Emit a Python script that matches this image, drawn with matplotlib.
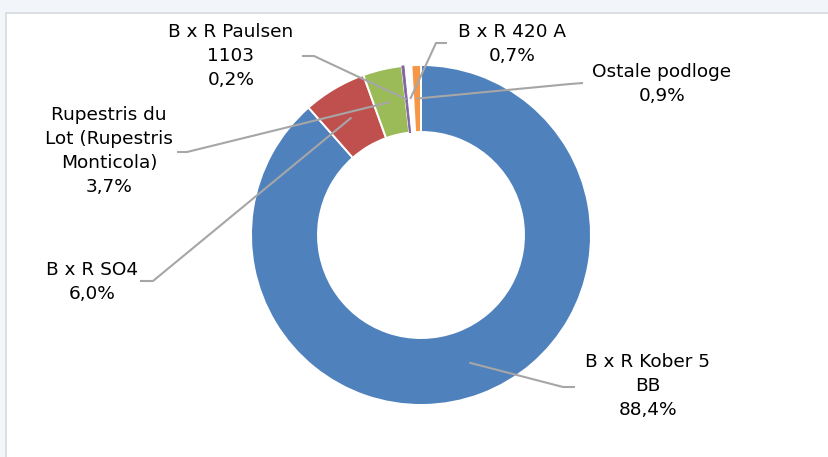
import matplotlib
matplotlib.use("Agg")
import matplotlib.pyplot as plt
import numpy as np
from matplotlib.patches import Rectangle

labels = ["B x R Kober 5\nBB", "B x R SO4", "Rupestris du\nLot (Rupestris\nMonticola)",
          "B x R Paulsen\n1103", "B x R 420 A", "Ostale podloge"]
values = [88.4, 6.0, 3.7, 0.2, 0.7, 0.9]
pct_text = ["88,4%", "6,0%", "3,7%", "0,2%", "0,7%", "0,9%"]
colors = ["#4F81BD", "#C0504D", "#9BBB59", "#8064A2", "#FFFFFF", "#F79646"]

W, H = 829, 457
fig = plt.figure(figsize=(W / 100, H / 100), dpi=100)
fig.patch.set_facecolor("#F2F6FA")
ax = fig.add_axes([0, 0, 1, 1])
ax.set_facecolor("#F2F6FA")

# white panel
ax.add_patch(Rectangle((6, -5), W, H - 13 + 5, facecolor="white",
                       edgecolor="#D6DADE", linewidth=1.2, zorder=0))

cx, cy = 421, H - 235
R = 170
width = 67
wedges, _ = ax.pie(values, colors=colors, startangle=90, counterclock=False,
                   center=(cx, cy), radius=R,
                   wedgeprops=dict(width=width, edgecolor="white", linewidth=1.4))
for w in wedges:
    w.set_zorder(2)
# keep the very thin purple slice visible
wedges[3].set_edgecolor(colors[3])
wedges[3].set_linewidth(0.6)
wedges[3].set_zorder(2.5)

# label layout (pixel coordinates, y from top): text center x, top line y, leader path start points
text_pos = [(648, 362), (92, 270), (109, 115), (231, 32), (512, 32), (662, 72)]
leader_pts = [[(575, 387), (563, 387)],
              [(140, 281), (153, 281)],
              [(177, 152), (187, 152)],
              [(302, 56), (314, 56)],
              [(447, 43), (436, 43)],
              [(583, 83), (570, 84)]]

total = sum(values)
cum = 0.0
rmid = R - width / 2
for i, v in enumerate(values):
    mid = 90 - (cum + v / 2) / total * 360
    cum += v
    ax_x = cx + rmid * np.cos(np.radians(mid))
    ax_y = cy + rmid * np.sin(np.radians(mid))
    pts = [(x, H - y) for x, y in leader_pts[i]] + [(ax_x, ax_y)]
    xs, ys = zip(*pts)
    ax.plot(xs, ys, color="#A6A6A6", linewidth=1.5, zorder=3, solid_capstyle="butt")
    tx, ty = text_pos[i]
    ax.text(tx, H - ty + 9, labels[i] + "\n" + pct_text[i], ha="center", va="top",
            fontsize=13.3, linespacing=1.42, color="#000000", zorder=4,
            family=["DejaVu Sans"])

ax.set_xlim(0, W)
ax.set_ylim(0, H)
ax.set_aspect("equal")
ax.axis("off")
fig.savefig("out.png", dpi=100, facecolor=fig.get_facecolor())
